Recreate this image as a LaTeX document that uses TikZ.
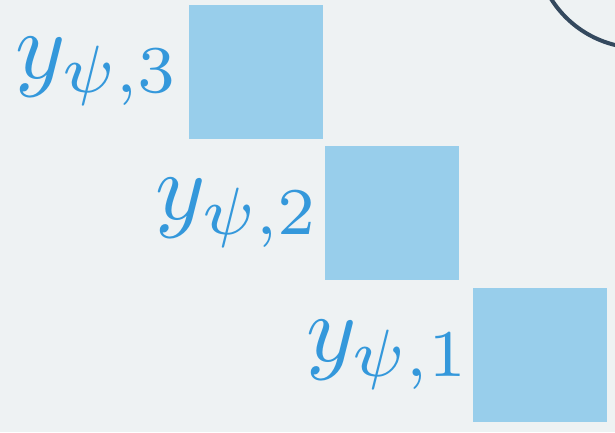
\documentclass[tikz,border=0pt]{standalone}
\usepackage{graphicx}
\usepackage{xcolor}
\definecolor{bgc}{HTML}{EEF2F3}
\definecolor{sqc}{HTML}{98CEEB}
\definecolor{txc}{HTML}{3498DB}
\definecolor{arcc}{HTML}{34495E}
\newcommand{\biglab}[1]{\scalebox{9.55}{$#1$}}
\begin{document}
\begin{tikzpicture}[x=1pt,y=-1pt,
  sq/.style={fill=sqc,draw=none,minimum width=134pt,minimum height=134pt,inner sep=0pt,outer sep=0pt},
  lab/.style={text=txc,anchor=east,inner sep=0pt}]
\fill[bgc] (0,0) rectangle (615,432);
\useasboundingbox (0,0) rectangle (615,432);
\node[sq] (s3) at (256,71.5) {};
\node[sq] (s2) at (392,213) {};
\node[sq] (s1) at (539.5,355) {};
\node[lab] (l3) at ([xshift=-8pt]s3.west) {\biglab{y_{\psi,3}}};
\node[lab] (l2) at ([xshift=-4pt]s2.west) {\biglab{y_{\psi,2}}};
\node[lab] (l1) at ([xshift=-1pt]s1.west) {\biglab{y_{\psi,1}}};
\draw[arcc,line width=4pt] (640,-57) circle[radius=105];
\end{tikzpicture}
\end{document}
